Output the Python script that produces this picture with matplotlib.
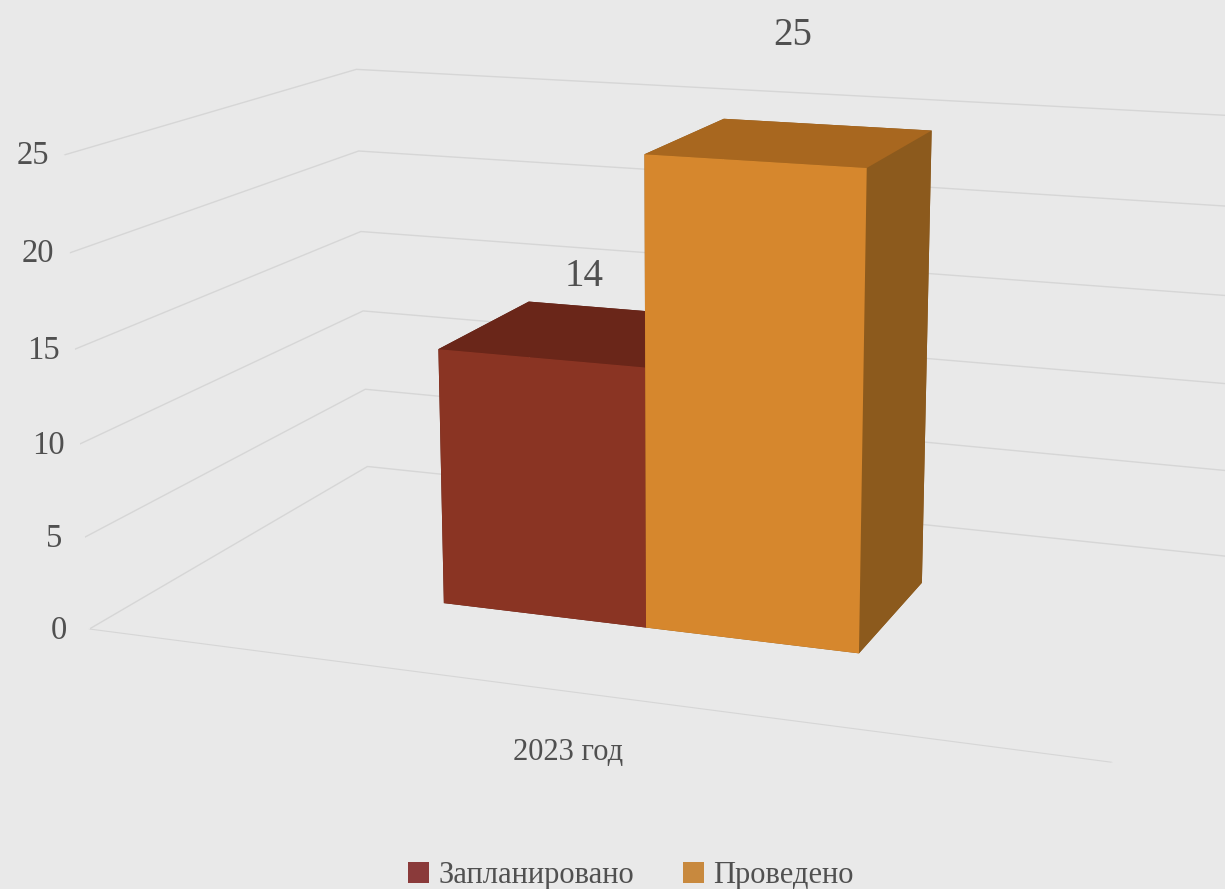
import matplotlib
matplotlib.use("Agg")
import matplotlib.pyplot as plt
import numpy as np
from matplotlib.patches import Patch

categories = ["2023 год"]
series_names = ["Запланировано", "Проведено"]
values = [14, 25]
z_ticks = [0, 5, 10, 15, 20, 25]

front_colors = ["#8a3423", "#d6872d"]
top_colors = ["#6a2619", "#a8671f"]
side_colors = ["#5e2216", "#8c5a1d"]
legend_colors = ["#8a3a3a", "#c8893e"]

BG = "#e9e9e9"
GRID = "#d6d6d6"
TXT = "#505050"
FONT = "Liberation Serif"

plt.rcParams["font.family"] = [FONT, "DejaVu Serif"]

fig = plt.figure(figsize=(12.25, 8.89), dpi=100, facecolor=BG)
ax = fig.add_axes([-0.178, 0.083, 1.45, 0.98], projection="3d")
ax.set_facecolor(BG)
ax.set_proj_type("persp", focal_length=0.6)
ax.view_init(elev=14, azim=-70)
ax.set_box_aspect((2.8, 1.7, 1.3), zoom=1.42)

ax.set_xlim(0, 1)
ax.set_ylim(0, 1)
ax.set_zlim(0, 25)

bar_w = 0.215
x0 = 0.29
y0, depth = 0.31, 0.37
xs, ys, zs, dxs, dys, dzs, cols = [], [], [], [], [], [], []
for i, v in enumerate(values):
    xs.append(x0 + i * bar_w)
    ys.append(y0)
    zs.append(0)
    dxs.append(bar_w)
    dys.append(depth)
    dzs.append(v)
    # faces: bottom, top, front(-y), back(+y), left(-x), right(+x)
    cols += [side_colors[i], top_colors[i], front_colors[i], side_colors[i],
             side_colors[i], side_colors[i]]
ax.bar3d(xs, ys, zs, dxs, dys, dzs, color=cols, shade=False, linewidth=0)

for i, v in enumerate(values):
    ax.text(x0 + i * bar_w + bar_w / 2, y0 + depth / 2, v * 1.22, str(v),
            fontsize=28, color=TXT, ha="center", va="center")

ax.text(0.5, 0.0, -3.2, categories[0], fontsize=22, color=TXT,
        ha="center", va="center")

ax.set_xticks([])
ax.set_yticks([])
ax.set_zticks(z_ticks)
ax.set_zticklabels([str(t) for t in z_ticks], fontsize=23.5, color=TXT,
                   va="center")
ax.tick_params(axis="z", length=0, pad=0)
ax.zaxis.set_ticks_position("lower")

for axis in (ax.xaxis, ax.yaxis, ax.zaxis):
    axis.set_pane_color(BG)
    axis.pane.set_edgecolor(BG)
    axis._axinfo["grid"]["color"] = GRID
    axis._axinfo["grid"]["linewidth"] = 1.0
    axis._axinfo["tick"]["inward_factor"] = 0
    axis._axinfo["tick"]["outward_factor"] = 0
ax.xaxis.line.set_color(GRID)
ax.yaxis.line.set_color(BG)
ax.zaxis.line.set_color(BG)

handles = [Patch(facecolor=c, edgecolor="none") for c in legend_colors]
fig.legend(handles, series_names, loc="lower center", ncol=2, frameon=False,
           fontsize=22, bbox_to_anchor=(0.515, -0.032), handlelength=0.7,
           handleheight=0.7, handletextpad=0.3, columnspacing=1.6,
           labelcolor=TXT)

fig.savefig("out.png", dpi=100, facecolor=BG)
